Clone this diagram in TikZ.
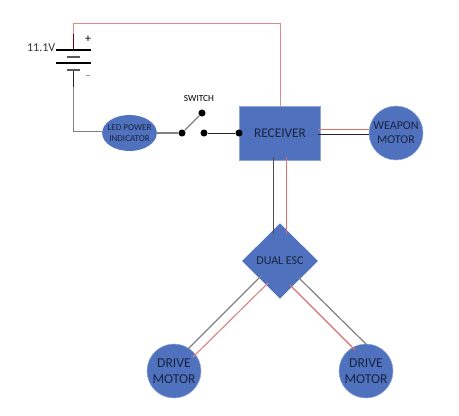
\documentclass[tikz,border=0pt]{standalone}
\usepackage{fontspec}
\setmainfont{Carlito}
\usetikzlibrary{positioning,shapes.geometric}
\definecolor{partblue}{HTML}{4F71BE}
\definecolor{partedge}{HTML}{8FA6D8}
\definecolor{parttext}{HTML}{1A2440}
\definecolor{palered}{HTML}{DD8A86}
\definecolor{wirered}{HTML}{DE706C}
\definecolor{wiregray}{HTML}{808080}

\begin{document}
\begin{tikzpicture}[
  x=0.75pt, y=-0.75pt,
  part/.style={fill=partblue, text=parttext, inner sep=0pt, align=center},
  motor/.style={part, circle, draw=partedge, thin, minimum size=40.5pt},
  longplate/.style={fill=black, inner sep=0pt, minimum width=26.5pt, minimum height=0.9pt},
  shortplate/.style={fill=black!65, inner sep=0pt, minimum width=10pt, minimum height=1.4pt},
  dot/.style={circle, fill=black, inner sep=0pt, minimum size=5.3pt},
  lbl/.style={inner sep=0pt, text=black!80},
  blackwire/.style={draw=black!85, line width=0.6pt},
  graywire/.style={draw=wiregray, line width=0.9pt},
  redwire/.style={draw=wirered, line width=0.9pt},
  paleline/.style={draw=palered, line width=0.9pt}
]
\useasboundingbox (0,0) rectangle (459,415);

\node[part, draw=partedge, thin, minimum width=60.5pt, minimum height=40.5pt, font=\fontsize{10}{12}\selectfont] (receiver) at (280,133) {RECEIVER};
\node[motor, font=\fontsize{9}{10.7}\selectfont] (weapon) at (396,133) {WEAPON\\MOTOR};
\node[part, diamond, minimum width=57pt, minimum height=56.5pt, font=\fontsize{9}{11}\selectfont] (esc) at (280,261) {DUAL ESC};
\node[motor, font=\fontsize{10.2}{12}\selectfont] (drivel) at (174,371) {DRIVE\\MOTOR};
\node[motor, font=\fontsize{10.2}{12}\selectfont] (driver) at (366,371) {DRIVE\\MOTOR};
\node[part, ellipse, inner xsep=-2pt, minimum width=41pt, minimum height=27pt, font=\fontsize{6.8}{8.2}\selectfont] (led) at (129.5,133) {LED POWER\\INDICATOR};

\node[longplate] (plate1) at (73.5,50) {};
\node[shortplate] (plate2) at (73.5,57) {};
\node[longplate] (plate3) at (73.5,63) {};
\node[shortplate] (plate4) at (73.5,70) {};
\node[lbl, font=\fontsize{9}{11}\selectfont, anchor=east] (volts) at (55.5,48) {11.1V};
\node[lbl, font=\fontsize{9}{11}\selectfont, text=black] (plus) at (88,39) {+};
\node[lbl, font=\fontsize{9}{11}\selectfont, text=black!55] (minus) at (88,78) {--};
\node[lbl, font=\fontsize{7}{8}\selectfont, text=black] (swlabel) at (199,98) {SWITCH};

\node[dot] (swa) at (182,133) {};
\node[dot] (swb) at (202,113) {};
\node[dot] (swc) at (204,133) {};
\node[dot] (swd) at (239,133) {};

\coordinate (batttop) at (73.5,34);
\coordinate (topcorner) at (73.5,23);
\coordinate (battbot) at (73.5,87);

\draw[draw=black!25!red!60!black, line width=0.75pt] (plate1) -- (batttop);
\draw[paleline, line width=0.6pt] (batttop) -- (topcorner) -| (receiver.north);
\draw[blackwire] (plate4) -- (battbot);
\draw[graywire] (battbot) |- ([shift={(0,-1.5)}]led.west);
\draw[graywire] (led.east) -- (swa);
\draw[graywire] (swa) -- (swb);
\draw[blackwire] (swc) -- (swd);

\draw[redwire, line width=0.6pt] ([shift={(-3,-3.5)}]receiver.east) -- ([shift={(0,-3.5)}]weapon.west);
\draw[blackwire] ([shift={(-3,1)}]receiver.east) -- ([shift={(0,1)}]weapon.west);

\draw[graywire, draw=black!70, line width=0.75pt] ([shift={(-6.5,-3)}]receiver.south) -- ([shift={(-6.5,-27)}]esc.center);
\draw[redwire, line width=0.75pt] ([shift={(6.5,-3)}]receiver.south) -- ([shift={(6.5,-27)}]esc.center);

\draw[graywire] ([shift={(-18,14)}]esc.center) -- ([shift={(14,-22)}]drivel.center);
\draw[paleline] ([shift={(-12,22)}]esc.center) -- ([shift={(19,-14)}]drivel.center);
\draw[graywire] ([shift={(18,16)}]esc.center) -- ([shift={(0,-27)}]driver.center);
\draw[redwire] ([shift={(10,24)}]esc.center) -- ([shift={(-11,-21)}]driver.center);
\end{tikzpicture}
\end{document}
